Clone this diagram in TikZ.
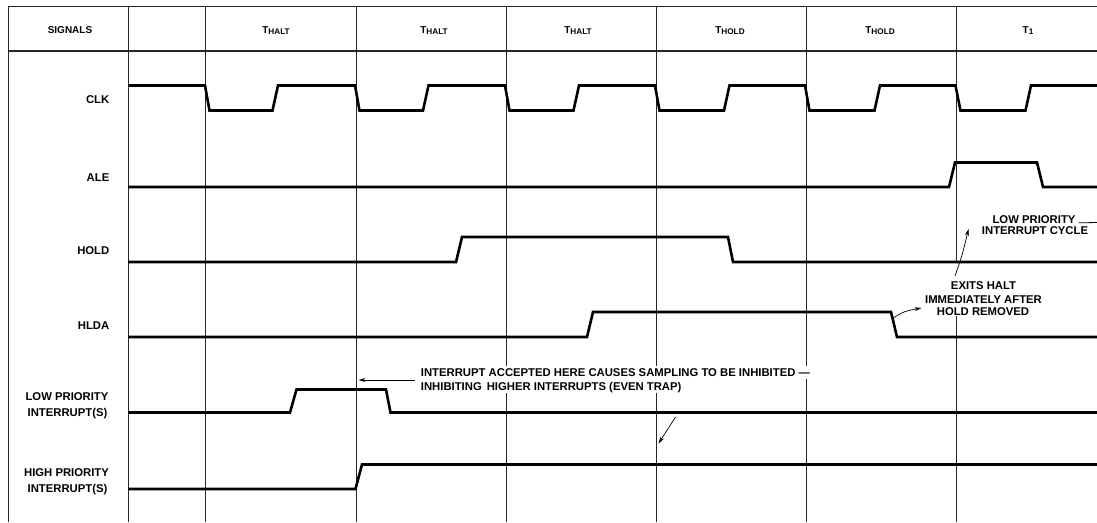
\documentclass[tikz,border=0pt]{standalone}
\usepackage{fontspec}
\setmainfont{Liberation Sans}
\usetikzlibrary{arrows.meta}
\begin{document}
\begin{tikzpicture}[x=1pt,y=-1pt,
  gridline/.style={line width=0.8pt, black!85},
  hdrline/.style={line width=1.2pt, black!85},
  wave/.style={line width=2.6pt, line join=miter},
  lbl/.style={font=\bfseries\fontsize{11.3}{13}\selectfont, inner sep=0pt, text height=8.1pt, text depth=0pt},
  hdr/.style={font=\bfseries\fontsize{10}{12}\selectfont, inner sep=0pt, text height=7.3pt, text depth=0pt},
  ann/.style={lbl, fill=white, inner xsep=1pt, inner ysep=2.5pt},
  leader/.style={line width=0.7pt, -{Stealth[length=7pt,width=4pt]}}]
\newcommand{\Tsub}[1]{T{\fontsize{8.2}{8}\selectfont\raisebox{-1pt}{#1}}}
\useasboundingbox (0,0) rectangle (1097,522);
\fill[white] (0,0) rectangle (1097,522);
% ---- grid ----
\draw[hdrline] (8,6.5) -- (1097,6.5);
\draw[hdrline] (8,51) -- (1097,51);
\draw[gridline] (8,6.5) -- (8,522);
\foreach \x in {128,205,356,506,656,806} \draw[gridline] (\x,6.5) -- (\x,522);
\draw[gridline] (956,6.5) -- (956,262);
\draw[gridline] (956,316) -- (956,522);
% ---- header ----
\node[hdr] (hsig) at (70,29.5) {SIGNALS};
\node[hdr] (h1) at (276,30) {\Tsub{HALT}};
\node[hdr] (h2) at (434,30) {\Tsub{HALT}};
\node[hdr] (h3) at (578,30) {\Tsub{HALT}};
\node[hdr] (h4) at (730,30) {\Tsub{HOLD}};
\node[hdr] (h5) at (880,30) {\Tsub{HOLD}};
\node[hdr] (h6) at (1028,30) {\Tsub{1}};
% ---- signal labels ----
\node[lbl, anchor=east] (lclk) at (109.5,99.5) {CLK};
\node[lbl, anchor=east] (lale) at (109.5,177.3) {ALE};
\node[lbl, anchor=east] (lhold) at (109.5,250) {HOLD};
\node[lbl, anchor=east] (lhlda) at (109.5,325.7) {HLDA};
\node[lbl] (llp1) at (67,396) {LOW PRIORITY};
\node[lbl] (llp2) at (67.5,412) {INTERRUPT(S)};
\node[lbl] (lhp1) at (66.5,472.5) {HIGH PRIORITY};
\node[lbl] (lhp2) at (67.5,488) {INTERRUPT(S)};
% ---- annotations ----
\node[ann, anchor=west] (n1) at (419.7,372.3) {INTERRUPT ACCEPTED HERE CAUSES SAMPLING TO BE INHIBITED ---};
\node[ann, anchor=west] (n2) at (419.7,386) {INHIBITING\, HIGHER INTERRUPTS (EVEN TRAP)};
\node[lbl] (r1) at (1034,219) {LOW PRIORITY};
\node[lbl] (r2) at (1035,230.7) {INTERRUPT CYCLE};
\node[lbl] (e1) at (983.5,285.7) {EXITS HALT};
\node[lbl] (e2) at (983.5,299) {IMMEDIATELY AFTER};
\node[lbl] (e3) at (983,311.7) {HOLD REMOVED};
\coordinate (r1end) at (1097,222.5);
\draw[line width=0.8pt] (r1.south east) ++(3,-0.4) coordinate (r1start) -- (r1end);
% ---- waveforms ----
\draw[wave] (128,85.5) -- (205,85.5) -- (209.5,110.5) -- (272.5,110.5) -- (278,85.5)
  -- (355,85.5) -- (359.5,110.5) -- (423,110.5) -- (428.5,85.5)
  -- (505,85.5) -- (509.5,110.5) -- (573.5,110.5) -- (579,85.5)
  -- (655,85.5) -- (659.5,110.5) -- (724,110.5) -- (729.5,85.5)
  -- (805,85.5) -- (809.5,110.5) -- (874.5,110.5) -- (880,85.5)
  -- (955.5,85.5) -- (960.5,110.5) -- (1025.5,110.5) -- (1031,85.5) -- (1097,85.5);
\draw[wave] (128,187) -- (949,187) -- (955,162.5) -- (1037,162.5) -- (1043,187) -- (1097,187);
\draw[wave] (128,262) -- (456,262) -- (462,237) -- (728,237) -- (733,262) -- (1097,262);
\draw[wave] (128,337) -- (587,337) -- (593,312) -- (891,312) -- (897,337) -- (1097,337);
\draw[wave] (128,412.5) -- (290,412.5) -- (296.5,389.5) -- (386,389.5) -- (390.5,412.5) -- (1097,412.5);
\draw[wave] (128,489) -- (355.5,489) -- (362,464.5) -- (1097,464.5);
% ---- leader arrows ----
\coordinate (a1s) at (415,380);
\coordinate (a1e) at (358.5,380);
\draw[leader] (a1s) -- (a1e);
\coordinate (a2s) at (675.5,417);
\coordinate (a2e) at (658.5,443.5);
\draw[leader] (a2s) -- (a2e);
\coordinate (a3s) at (955,276);
\coordinate (a3e) at (968.5,229);
\draw[leader] (a3s) .. controls (962,256) .. (a3e);
\coordinate (a4s) at (893,318);
\coordinate (a4e) at (921.5,308);
\draw[leader] (a4s) .. controls (905,311) .. (a4e);
\end{tikzpicture}
\end{document}
